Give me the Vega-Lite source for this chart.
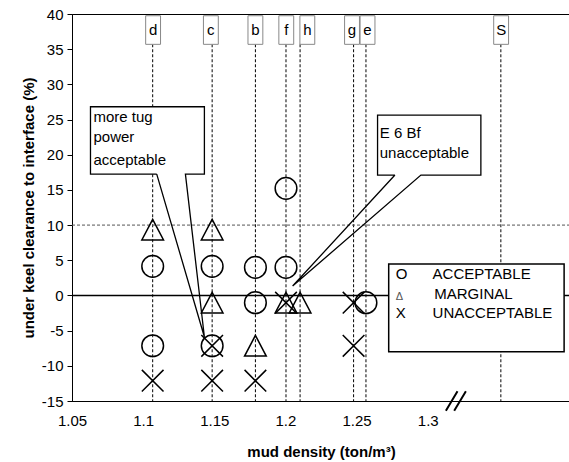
{
  "$schema": "https://vega.github.io/schema/vega-lite/v6.json",
  "width": 498,
  "height": 387,
  "autosize": {"type": "none"},
  "padding": {"left": 72, "top": 14, "right": 0, "bottom": 61},
  "background": "white",
  "config": {
    "view": {"stroke": "black", "strokeWidth": 1},
    "font": "Liberation Sans",
    "axis": {
      "labelFont": "Liberation Sans", "labelFontSize": 15, "labelColor": "black",
      "titleFont": "Liberation Sans", "titleFontSize": 15, "titleFontWeight": "bold", "titleColor": "black",
      "domainColor": "black", "domainWidth": 1, "tickColor": "black", "grid": false, "labelOverlap": false
    }
  },
  "datasets": {
    "lines": [
      {"id": "d", "density": 1.1067, "lx": 1.1070},
      {"id": "c", "density": 1.1485, "lx": 1.1476},
      {"id": "b", "density": 1.1789, "lx": 1.1789},
      {"id": "f", "density": 1.2004, "lx": 1.2006},
      {"id": "h", "density": 1.2103, "lx": 1.2154},
      {"id": "g", "density": 1.2479, "lx": 1.2468},
      {"id": "e", "density": 1.2566, "lx": 1.2577},
      {"id": "S", "density": 1.3514, "lx": 1.3516}
    ],
    "points": [
      {"density": 1.1067, "ukc": 9.35, "rating": "MARGINAL"},
      {"density": 1.1067, "ukc": 4.14, "rating": "ACCEPTABLE"},
      {"density": 1.1067, "ukc": -7.15, "rating": "ACCEPTABLE"},
      {"density": 1.1067, "ukc": -12.12, "rating": "UNACCEPTABLE"},
      {"density": 1.1485, "ukc": 9.35, "rating": "MARGINAL"},
      {"density": 1.1485, "ukc": 4.14, "rating": "ACCEPTABLE"},
      {"density": 1.1485, "ukc": -1.03, "rating": "MARGINAL"},
      {"density": 1.1485, "ukc": -7.15, "rating": "ACCEPTABLE"},
      {"density": 1.1485, "ukc": -7.15, "rating": "UNACCEPTABLE"},
      {"density": 1.1485, "ukc": -12.12, "rating": "UNACCEPTABLE"},
      {"density": 1.1789, "ukc": 3.99, "rating": "ACCEPTABLE"},
      {"density": 1.1789, "ukc": -1.03, "rating": "ACCEPTABLE"},
      {"density": 1.1789, "ukc": -7.15, "rating": "MARGINAL"},
      {"density": 1.1789, "ukc": -12.12, "rating": "UNACCEPTABLE"},
      {"density": 1.2004, "ukc": 15.22, "rating": "ACCEPTABLE"},
      {"density": 1.2004, "ukc": 3.99, "rating": "ACCEPTABLE"},
      {"density": 1.2004, "ukc": -1.03, "rating": "UNACCEPTABLE"},
      {"density": 1.2004, "ukc": -1.03, "rating": "MARGINAL"},
      {"density": 1.2103, "ukc": -1.03, "rating": "MARGINAL"},
      {"density": 1.2479, "ukc": -1.03, "rating": "UNACCEPTABLE"},
      {"density": 1.2479, "ukc": -7.15, "rating": "UNACCEPTABLE"},
      {"density": 1.2566, "ukc": -1.03, "rating": "ACCEPTABLE"}
    ],
    "calloutBoxes": [
      {"callout": "tug", "x1": 1.06299, "x2": 1.14305, "y1": 26.82, "y2": 17.25},
      {"callout": "bf", "x1": 1.26475, "x2": 1.33736, "y1": 25.64, "y2": 17.11}
    ],
    "calloutOutline": [
      {"callout": "tug", "i": 0, "x": 1.10955, "y": 17.25},
      {"callout": "tug", "i": 1, "x": 1.14305, "y": -5.91},
      {"callout": "tug", "i": 2, "x": 1.12971, "y": 17.25},
      {"callout": "tug", "i": 3, "x": 1.14305, "y": 17.25},
      {"callout": "tug", "i": 4, "x": 1.14305, "y": 26.82},
      {"callout": "tug", "i": 5, "x": 1.06299, "y": 26.82},
      {"callout": "tug", "i": 6, "x": 1.06299, "y": 17.25},
      {"callout": "tug", "i": 7, "x": 1.10955, "y": 17.25},
      {"callout": "bf", "i": 0, "x": 1.27697, "y": 17.11},
      {"callout": "bf", "i": 1, "x": 1.20506, "y": 1.34},
      {"callout": "bf", "i": 2, "x": 1.29522, "y": 17.11},
      {"callout": "bf", "i": 3, "x": 1.33736, "y": 17.11},
      {"callout": "bf", "i": 4, "x": 1.33736, "y": 25.64},
      {"callout": "bf", "i": 5, "x": 1.26475, "y": 25.64},
      {"callout": "bf", "i": 6, "x": 1.26475, "y": 17.11},
      {"callout": "bf", "i": 7, "x": 1.27697, "y": 17.11}
    ],
    "calloutText": [
      {"t": "more tug", "x": 1.0651, "y": 25.4},
      {"t": "power", "x": 1.0651, "y": 22.45},
      {"t": "acceptable", "x": 1.0651, "y": 19.2},
      {"t": "E 6 Bf", "x": 1.2663, "y": 23.05},
      {"t": "unacceptable", "x": 1.2663, "y": 20.3}
    ],
    "legendText": [
      {"t": "O", "x": 1.2775, "y": 3.05},
      {"t": "X", "x": 1.2775, "y": -2.55},
      {"t": "ACCEPTABLE", "x": 1.3034, "y": 3.0},
      {"t": "MARGINAL", "x": 1.3046, "y": 0.25},
      {"t": "UNACCEPTABLE", "x": 1.3034, "y": -2.55}
    ]
  },
  "layer": [
    {
      "data": {"name": "lines"},
      "mark": {"type": "rule", "color": "black", "strokeWidth": 1, "strokeDash": [3, 2]},
      "encoding": {
        "x": {"field": "density", "type": "quantitative",
              "scale": {"domain": [1.05, 1.4], "nice": false, "zero": false},
              "axis": {"values": [1.05, 1.1, 1.15, 1.2, 1.25, 1.3], "format": "~g", "ticks": false, "tickSize": 0, "labelPadding": 12, "titlePadding": 16, "labelOverlap": false, "labelFlush": false, "title": "mud density (ton/m³)"}},
        "y": {"datum": 35.7, "type": "quantitative",
              "scale": {"domain": [-15, 40], "nice": false, "zero": false},
              "axis": {"values": [-15, -10, -5, 0, 5, 10, 15, 20, 25, 30, 35, 40], "tickCount": 12, "labelExpr": "'' + datum.value", "tickSize": 5, "labelPadding": 4, "titlePadding": 5, "labelOverlap": false, "labelFlush": false, "title": "under keel clearance to interface (%)"}},
        "y2": {"datum": -15}
      }
    },
    {
      "data": {"values": [{"v": 10}]},
      "mark": {"type": "rule", "color": "#555555", "strokeWidth": 1, "strokeDash": [3, 2]},
      "encoding": {"y": {"field": "v", "type": "quantitative"}}
    },
    {
      "data": {"values": [{"v": 0}]},
      "mark": {"type": "rule", "color": "black", "strokeWidth": 1.5},
      "encoding": {"y": {"field": "v", "type": "quantitative"}}
    },
    {
      "data": {"name": "lines"},
      "mark": {"type": "point", "shape": "M-0.52,-1L0.52,-1L0.52,1L-0.52,1Z", "size": 818, "filled": true, "fill": "white", "stroke": "#888888", "strokeWidth": 1, "opacity": 1},
      "encoding": {
        "x": {"field": "lx", "type": "quantitative"},
        "y": {"datum": 37.72, "type": "quantitative"}
      }
    },
    {
      "data": {"name": "lines"},
      "mark": {"type": "text", "fontSize": 15, "color": "black", "baseline": "middle", "align": "center"},
      "encoding": {
        "x": {"field": "lx", "type": "quantitative"},
        "y": {"datum": 37.72, "type": "quantitative"},
        "text": {"field": "id"}
      }
    },
    {
      "data": {"name": "calloutBoxes"},
      "mark": {"type": "rect", "fill": "white", "stroke": null},
      "encoding": {
        "x": {"field": "x1", "type": "quantitative"},
        "x2": {"field": "x2"},
        "y": {"field": "y1", "type": "quantitative"},
        "y2": {"field": "y2"}
      }
    },
    {
      "data": {"name": "calloutOutline"},
      "mark": {"type": "line", "color": "black", "strokeWidth": 1.3},
      "encoding": {
        "x": {"field": "x", "type": "quantitative"},
        "y": {"field": "y", "type": "quantitative"},
        "detail": {"field": "callout"},
        "order": {"field": "i", "type": "quantitative"}
      }
    },
    {
      "data": {"name": "calloutText"},
      "mark": {"type": "text", "fontSize": 15, "color": "black", "baseline": "middle", "align": "left"},
      "encoding": {
        "x": {"field": "x", "type": "quantitative"},
        "y": {"field": "y", "type": "quantitative"},
        "text": {"field": "t"}
      }
    },
    {
      "data": {"name": "points"},
      "mark": {"type": "point", "filled": false, "stroke": "black", "strokeWidth": 1.5, "size": 470, "opacity": 1},
      "encoding": {
        "x": {"field": "density", "type": "quantitative"},
        "y": {"field": "ukc", "type": "quantitative"},
        "shape": {"field": "rating", "type": "nominal", "legend": null,
                  "scale": {"domain": ["ACCEPTABLE", "MARGINAL", "UNACCEPTABLE"],
                            "range": ["circle", "M0,-0.95L-1,0.95L1,0.95Z", "M-1,-1L1,1M-1,1L1,-1"]}}
      }
    },
    {
      "data": {"values": [{"x1": 1.27258, "x2": 1.39586, "y1": 4.46, "y2": -8.0}]},
      "mark": {"type": "rect", "fill": "white", "stroke": "black", "strokeWidth": 1.5},
      "encoding": {
        "x": {"field": "x1", "type": "quantitative"},
        "x2": {"field": "x2"},
        "y": {"field": "y1", "type": "quantitative"},
        "y2": {"field": "y2"}
      }
    },
    {
      "data": {"name": "legendText"},
      "mark": {"type": "text", "fontSize": 15, "color": "black", "baseline": "middle", "align": "left"},
      "encoding": {
        "x": {"field": "x", "type": "quantitative"},
        "y": {"field": "y", "type": "quantitative"},
        "text": {"field": "t"}
      }
    },
    {
      "data": {"values": [{"t": "Δ", "x": 1.2775, "y": -0.2}]},
      "mark": {"type": "text", "fontSize": 11, "color": "#555555", "baseline": "middle", "align": "left"},
      "encoding": {
        "x": {"field": "x", "type": "quantitative"},
        "y": {"field": "y", "type": "quantitative"},
        "text": {"field": "t"}
      }
    },
    {
      "data": {"values": [{"x": 1.3198, "y": -15}]},
      "mark": {"type": "point", "shape": "M-1,0.97L0.16,-0.97M-0.17,0.97L1,-0.97", "size": 400, "filled": false, "stroke": "black", "strokeWidth": 2, "opacity": 1},
      "encoding": {
        "x": {"field": "x", "type": "quantitative"},
        "y": {"field": "y", "type": "quantitative"}
      }
    }
  ]
}
